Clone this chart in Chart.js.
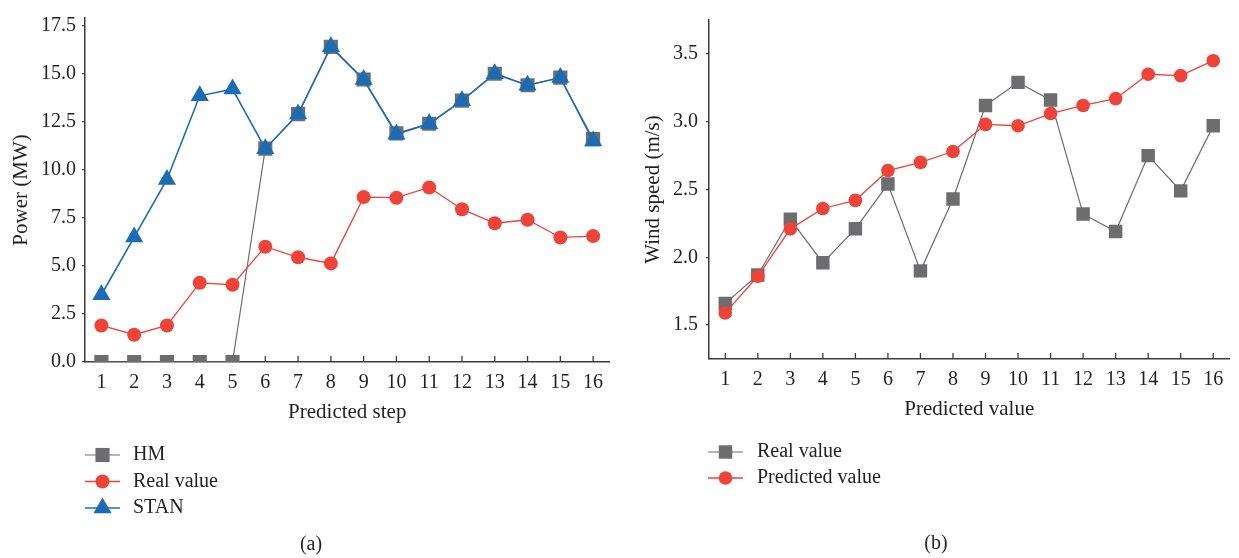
<!DOCTYPE html>
<html>
<head>
<meta charset="utf-8">
<script src="https://cdn.jsdelivr.net/npm/chart.js@4"></script>
<style>
    body { margin: 0; background: #fff; }
    #wrap { position: relative; width: 1239px; height: 558px; }
    #boxA { position: absolute; left: 0; top: 0; width: 620px; height: 558px; }
    #boxB { position: absolute; left: 620px; top: 0; width: 619px; height: 558px; }
</style>
</head>
<body>
<div id="wrap">
    <div id="boxA"><canvas id="grafikA"></canvas></div>
    <div id="boxB"><canvas id="grafikB"></canvas></div>
</div>
<script>
// Data (a) - power
const langkah = ["1", "2", "3", "4", "5", "6", "7", "8", "9", "10", "11", "12", "13", "14", "15", "16"];
const hmPower = [0, 0, 0, 0, 0, 11.1, 12.9, 16.4, 14.7, 11.9, 12.4, 13.6, 15.0, 14.4, 14.8, 11.6];
const realPower = [1.9, 1.42, 1.9, 4.12, 4.02, 6.0, 5.45, 5.13, 8.58, 8.55, 9.08, 7.95, 7.22, 7.4, 6.48, 6.55];
const stanPower = [3.5, 6.5, 9.5, 13.85, 14.2, 11.1, 12.9, 16.4, 14.7, 11.85, 12.4, 13.6, 15.0, 14.4, 14.8, 11.5];
const tickPower = [0, 2.5, 5, 7.5, 10, 12.5, 15, 17.5];

// Data (b) - wind speed
const realWind = [1.66, 1.87, 2.28, 1.96, 2.21, 2.54, 1.9, 2.43, 3.12, 3.29, 3.16, 2.32, 2.19, 2.75, 2.49, 2.97];
const predWind = [1.59, 1.86, 2.21, 2.36, 2.42, 2.64, 2.7, 2.78, 2.98, 2.97, 3.06, 3.12, 3.17, 3.35, 3.34, 3.45];
const tickWind = [1.5, 2.0, 2.5, 3.0, 3.5];

const warnaTeks = "#231f20";
const warnaSumbu = "#3c3c3e";
const abu = "#6d6d6f";
const merah = "#ef4238";
const biru = "#1c6bb5";
const huruf = { family: "'Liberation Serif', 'Times New Roman', serif", size: 20 };
const hurufJudul = { family: "'Liberation Serif', 'Times New Roman', serif", size: 21 };

// Tick ke dalam pada sumbu x, legenda dan keterangan di bawah
const hiasan = {
    id: "hiasan",
    beforeDatasetsDraw(chart) {
        const sx = chart.scales.x;
        const ctx = chart.ctx;
        const bawah = chart.chartArea.bottom;
        ctx.save();
        ctx.strokeStyle = warnaSumbu;
        ctx.lineWidth = 1.3;
        sx.ticks.forEach((t, i) => {
            const px = sx.getPixelForTick(i);
            ctx.beginPath();
            ctx.moveTo(px, bawah);
            ctx.lineTo(px, bawah - 6);
            ctx.stroke();
        });
        ctx.restore();
    },
    afterDraw(chart, args, opts) {
        const ctx = chart.ctx;
        ctx.save();
        ctx.font = "20px 'Liberation Serif', serif";
        ctx.textBaseline = "middle";
        ctx.textAlign = "left";
        chart.data.datasets.forEach((ds, i) => {
            const y = opts.y + i * opts.gap;
            ctx.strokeStyle = ds.borderColor;
            ctx.lineWidth = ds.borderWidth;
            ctx.beginPath();
            ctx.moveTo(opts.x, y);
            ctx.lineTo(opts.x + 35, y);
            ctx.stroke();
            ctx.fillStyle = ds.pointBackgroundColor;
            ctx.strokeStyle = ds.pointBackgroundColor;
            Chart.helpers.drawPoint(ctx, {
                pointStyle: ds.pointStyle,
                radius: ds.pointRadius,
                borderWidth: 0,
                rotation: 0
            }, opts.x + 17.5, y);
            ctx.fillStyle = warnaTeks;
            ctx.fillText(ds.label, opts.textX, y);
        });
        ctx.textAlign = "center";
        ctx.fillText(opts.caption, opts.captionX, opts.captionY);
        ctx.restore();
    }
};

function buatDataset(label, values, color, style, radius, width, order) {
    return {
        label: label,
        data: values,
        borderColor: color,
        backgroundColor: color,
        pointBackgroundColor: color,
        pointBorderColor: color,
        pointBorderWidth: 0,
        pointStyle: style,
        pointRadius: radius,
        pointHoverRadius: radius,
        borderWidth: width,
        order: order,
        tension: 0,
        fill: false
    };
}

function skalaX(judul) {
    return {
        type: "category",
        offset: true,
        grid: { display: false, drawTicks: false },
        border: { display: true, color: warnaSumbu, width: 1.5 },
        ticks: { color: warnaTeks, font: huruf, padding: 9, maxRotation: 0, autoSkip: false },
        title: { display: true, text: judul, color: warnaTeks, font: hurufJudul, padding: { top: 0, bottom: 0 } },
        afterFit(s) { s.height = 63; }
    };
}

function skalaY(judul, min, max, daftarTick, lebar, pad, judulPad) {
    return {
        min: min,
        max: max,
        grid: { display: true, drawOnChartArea: false, drawTicks: true, tickLength: 3, color: warnaSumbu, lineWidth: 1.3 },
        border: { display: true, color: warnaSumbu, width: 1.5 },
        ticks: { color: warnaTeks, font: huruf, padding: pad, callback: v => v.toFixed(1) },
        title: { display: true, text: judul, color: warnaTeks, font: hurufJudul, padding: { top: judulPad, bottom: 0 } },
        afterBuildTicks(s) { s.ticks = daftarTick.map(v => ({ value: v })); },
        afterFit(s) { s.width = lebar; }
    };
}

const hm = buatDataset("HM", hmPower, abu, "rect", 10, 1.2, 2);
hm.clip = 0;

new Chart(document.getElementById("grafikA"), {
    type: "line",
    data: {
        labels: langkah,
        datasets: [
            hm,
            buatDataset("Real value", realPower, merah, "circle", 7, 1.3, 1),
            buatDataset("STAN", stanPower, biru, "triangle", 10.5, 1.6, 0)
        ]
    },
    options: {
        responsive: true,
        maintainAspectRatio: false,
        animation: false,
        layout: { padding: { top: 12, left: 0, right: 7, bottom: 133 } },
        plugins: {
            legend: { display: false },
            tooltip: { enabled: false },
            hiasan: { x: 85, textX: 133, y: 455, gap: 26.5, caption: "(a)", captionX: 311, captionY: 545 }
        },
        scales: {
            x: skalaX("Predicted step"),
            y: skalaY("Power (MW)", 0, 17.9, tickPower, 85, 6, 9)
        }
    },
    plugins: [hiasan]
});

new Chart(document.getElementById("grafikB"), {
    type: "line",
    data: {
        labels: langkah,
        datasets: [
            buatDataset("Real value", realWind, abu, "rect", 9.5, 1.2, 1),
            buatDataset("Predicted value", predWind, merah, "circle", 6.8, 1.3, 0)
        ]
    },
    options: {
        responsive: true,
        maintainAspectRatio: false,
        animation: false,
        layout: { padding: { top: 8, left: 0, right: 4, bottom: 136 } },
        plugins: {
            legend: { display: false },
            tooltip: { enabled: false },
            hiasan: { x: 88, textX: 137, y: 452, gap: 26, caption: "(b)", captionX: 316, captionY: 544 }
        },
        scales: {
            x: skalaX("Predicted value"),
            y: skalaY("Wind speed (m/s)", 1.25, 3.75, tickWind, 89, 8, 21)
        }
    },
    plugins: [hiasan]
});
</script>
</body>
</html>
